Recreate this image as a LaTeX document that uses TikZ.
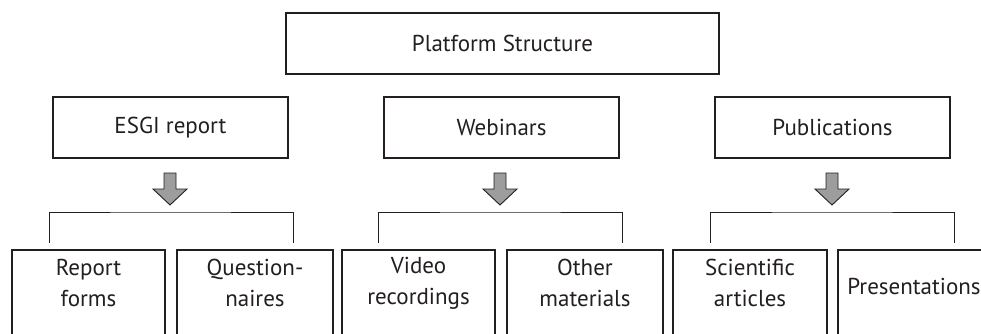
\documentclass[tikz,border=0pt]{standalone}
\usepackage{fontspec}
\setmainfont{PT Sans}
\usetikzlibrary{calc}
\definecolor{ink}{HTML}{231F20}
\definecolor{arrowgray}{HTML}{9D9D9D}
\tikzset{
  box/.style={draw=ink, line width=2pt, text=ink, inner sep=0pt, align=center, font=\fontsize{23}{31}\selectfont},
  bracketline/.style={draw=ink, line width=1pt},
  pics/downarrow/.style={code={
    \draw[fill=arrowgray, draw=ink, line width=0.9pt, line join=miter]
      (-6,0) -- (6,0) -- (6,16) -- (17,16) -- (0,32) -- (-17,16) -- (-6,16) -- cycle;
  }}
}
\begin{document}
\begin{tikzpicture}[x=1pt,y=-1pt]
\useasboundingbox (0,0) rectangle (981,334);
\clip (0,0) rectangle (981,334);
\fill[white] (0,0) rectangle (981,334);
% top
\node[box, minimum width=433pt, minimum height=61pt] (root) at (502.5,43.5) {Platform Structure};
% second row
\node[box, minimum width=235pt, minimum height=61pt] (esgi) at (170.5,127.5) {ESGI report};
\node[box, minimum width=235pt, minimum height=61pt] (web) at (501.5,127.5) {Webinars};
\node[box, minimum width=235pt, minimum height=61pt] (pub) at (832.5,127.5) {Publications};
% arrows
\pic (a1) at (170,173) {downarrow};
\pic (a2) at (500,173) {downarrow};
\pic (a3) at (832,173) {downarrow};
% bottom boxes
\begin{scope}[every node/.style={box, minimum height=110pt, anchor=north, text depth=0pt}]
\node[minimum width=153pt] (rf) at (88.5,249) {};
\node[minimum width=156pt] (qn) at (255,249) {};
\node[minimum width=153pt] (vr) at (418.5,249) {};
\node[minimum width=156pt] (om) at (585,249) {};
\node[minimum width=154pt] (sa) at (750,249) {};
\node[minimum width=156pt] (pr) at (916,249) {};
\end{scope}
\begin{scope}[every node/.style={text=ink, align=center, font=\fontsize{23}{31}\selectfont, inner sep=0pt}]
\node (trf) at (88.5,283) {Report\\forms};
\node (tqn) at (255,283) {Question-\\naires};
\node (tvr) at (418.5,283) {Video\\recordings};
\node (tom) at (585,283) {Other\\materials};
\node (tsa) at (750,283) {Scientific\\articles};
\node (tpr) at (914,286) {Presentations};
\end{scope}
% brackets
\coordinate (b1l) at (49,243); \coordinate (b1r) at (293,243);
\coordinate (b2l) at (378,243); \coordinate (b2r) at (622,243);
\coordinate (b3l) at (710,243); \coordinate (b3r) at (954,243);
\draw[bracketline] (b1l) |- (170,212) -| (b1r);
\draw[bracketline] (b2l) |- (500,212) -| (b2r);
\draw[bracketline] (b3l) |- (832,212) -| (b3r);
\end{tikzpicture}
\end{document}
